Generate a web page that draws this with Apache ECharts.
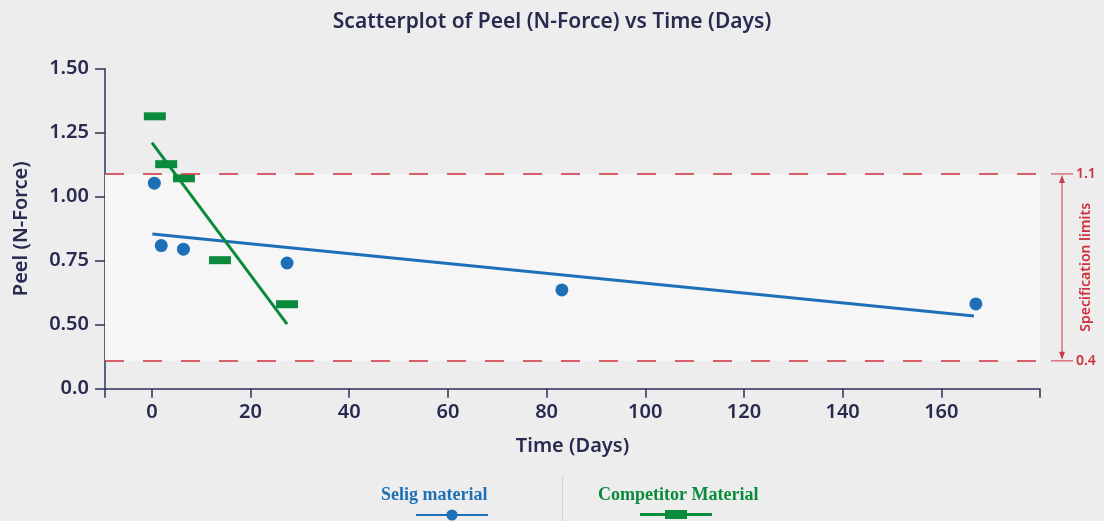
<!DOCTYPE html>
<html>
<head>
<meta charset="utf-8">
<script src="https://cdn.jsdelivr.net/npm/echarts@6/dist/echarts.min.js"></script>
<style>
  html, body { margin: 0; padding: 0; background: #ededed; }
  #chart { width: 1104px; height: 521px; }
</style>
</head>
<body>
<div id="chart"></div>
<script>
// values
const seligPoints = [[0.5, 1.053], [1.9, 0.809], [6.4, 0.795], [27.4, 0.741], [83.1, 0.636], [167.0, 0.581]];
const seligTrend = [[0.1, 0.854], [166.6, 0.534]];
const competitorPoints = [[0.6, 1.314], [2.9, 1.127], [6.5, 1.072], [13.8, 0.752], [27.4, 0.580]];
const competitorTrend = [[0.0, 1.211], [27.4, 0.502]];
const specLines = [1.089, 0.359];
const specLabels = ['1.1', '0.4'];
const yTickLabels = ['0.0', '0.50', '0.75', '1.00', '1.25', '1.50'];

const BLUE = '#1f6fb8';
const GREEN = '#0a8a3c';
const RED = '#cf2f3c';
const INK = '#272b4f';
const SANS = '"Noto Sans", "Open Sans", sans-serif';
const SERIF = '"Liberation Serif", "DejaVu Serif", serif';

const chart = echarts.init(document.getElementById('chart'));

const option = {
  backgroundColor: '#ededed',
  animation: false,
  title: {
    text: 'Scatterplot of Peel (N-Force) vs Time (Days)',
    left: 'center',
    top: 7,
    textStyle: { fontFamily: SANS, fontSize: 21, fontWeight: 600, color: INK }
  },
  grid: {
    left: 105, right: 64, top: 68.7, bottom: 132.3,
    containLabel: false, outerBoundsMode: 'none'
  },
  legend: [
    { // text only
      data: ['Selig material'], left: 371, top: 481, icon: 'none', itemWidth: 0, itemHeight: 18,
      textStyle: { fontFamily: SERIF, fontWeight: 'bold', fontSize: 18, color: BLUE }
    },
    { // icon only
      data: ['Selig material'], left: 410, top: 503, itemWidth: 72, itemHeight: 14,
      formatter: () => ''
    },
    {
      data: ['Competitor Material'], left: 588, top: 481, icon: 'none', itemWidth: 0, itemHeight: 18,
      textStyle: { fontFamily: SERIF, fontWeight: 'bold', fontSize: 18, color: GREEN }
    },
    {
      data: ['Competitor Material'], left: 635, top: 505, itemWidth: 72, itemHeight: 9,
      icon: 'path://M0,3h72v3H0zM25,0h22v9H25z',
      formatter: () => ''
    }
  ],
  xAxis: {
    type: 'value',
    min: -9.5, max: 180,
    minInterval: 20, maxInterval: 20, splitNumber: 9,
    name: 'Time (Days)',
    nameLocation: 'middle',
    nameGap: 48,
    nameTextStyle: { fontFamily: SANS, fontSize: 20, fontWeight: 600, color: INK },
    axisLine: { onZero: false, lineStyle: { color: '#2e3255', width: 1.5 } },
    axisTick: { length: 9, lineStyle: { color: '#2e3255', width: 1.5 } },
    axisLabel: {
      margin: 14, fontFamily: SANS, fontSize: 20, fontWeight: 600, color: INK,
      formatter: v => (v < 0 || v > 170) ? '' : String(v)
    },
    splitLine: { show: false }
  },
  yAxis: {
    type: 'value',
    min: 0.25, max: 1.5, interval: 0.25,
    name: 'Peel (N-Force)',
    nameLocation: 'middle',
    nameGap: 74,
    nameTextStyle: { fontFamily: SANS, fontSize: 20, fontWeight: 600, color: INK },
    axisLine: { show: true, onZero: false, lineStyle: { color: '#2e3255', width: 1.5 } },
    axisTick: { show: true, length: 10, lineStyle: { color: '#2e3255', width: 1.5 } },
    axisLabel: {
      margin: 16, fontFamily: SANS, fontSize: 20, fontWeight: 600, color: INK,
      formatter: (v, i) => yTickLabels[i]
    },
    splitLine: { show: false }
  },
  series: [
    {
      name: 'Selig material',
      type: 'line',
      data: seligTrend,
      symbol: 'circle',
      symbolSize: 13,
      showSymbol: false,
      lineStyle: { color: BLUE, width: 3 },
      itemStyle: { color: BLUE },
      z: 3,
      markArea: {
        silent: true,
        itemStyle: { color: '#f6f6f6' },
        data: [[{ yAxis: specLines[1] }, { yAxis: specLines[0] }]]
      },
      markLine: {
        silent: true,
        symbol: 'none',
        label: { show: false },
        lineStyle: { color: RED, type: [19, 19], width: 1.5 },
        data: specLines.map(v => ({ yAxis: v }))
      }
    },
    {
      name: 'Selig material',
      type: 'scatter',
      data: seligPoints,
      symbol: 'circle',
      symbolSize: 13,
      itemStyle: { color: BLUE, opacity: 1 },
      z: 4
    },
    {
      name: 'Competitor Material',
      type: 'line',
      data: competitorTrend,
      symbol: 'rect',
      showSymbol: false,
      lineStyle: { color: GREEN, width: 3 },
      itemStyle: { color: GREEN },
      z: 5
    },
    {
      name: 'Competitor Material',
      type: 'scatter',
      data: competitorPoints,
      symbol: 'rect',
      symbolSize: [22, 8],
      itemStyle: { color: GREEN, opacity: 1 },
      z: 4
    }
  ]
};

chart.setOption(option);

// annotation on the right side of the plot: spec limit labels and arrow
const yTop = chart.convertToPixel({ yAxisIndex: 0 }, specLines[0]);
const yBot = chart.convertToPixel({ yAxisIndex: 0 }, specLines[1]);
const xEnd = chart.convertToPixel({ xAxisIndex: 0 }, 180);
const ax = xEnd + 22;
const soft = '#d8737b';

chart.setOption({
  graphic: [
    { type: 'line', shape: { x1: xEnd + 11, y1: yTop, x2: xEnd + 33, y2: yTop }, style: { stroke: soft, lineWidth: 1.5 } },
    { type: 'line', shape: { x1: xEnd + 11, y1: yBot, x2: xEnd + 33, y2: yBot }, style: { stroke: soft, lineWidth: 1.5 } },
    { type: 'line', shape: { x1: ax, y1: yTop + 3, x2: ax, y2: yBot - 3 }, style: { stroke: soft, lineWidth: 1.5 } },
    { type: 'polygon', shape: { points: [[ax, yTop + 1], [ax - 3, yTop + 9], [ax + 3, yTop + 9]] }, style: { fill: '#c8404b' } },
    { type: 'polygon', shape: { points: [[ax, yBot - 1], [ax - 3, yBot - 9], [ax + 3, yBot - 9]] }, style: { fill: '#c8404b' } },
    { type: 'text', x: xEnd + 36, y: yTop, style: { text: specLabels[0], fill: RED, font: '600 14px ' + SANS, verticalAlign: 'middle', align: 'left' } },
    { type: 'text', x: xEnd + 36, y: yBot, style: { text: specLabels[1], fill: RED, font: '600 14px ' + SANS, verticalAlign: 'middle', align: 'left' } },
    {
      type: 'text', x: xEnd + 46, y: (yTop + yBot) / 2, rotation: Math.PI / 2,
      style: { text: 'Specification limits', fill: RED, font: '600 14px ' + SANS, align: 'center', verticalAlign: 'middle' }
    },
    { type: 'line', shape: { x1: 562.5, y1: 476, x2: 562.5, y2: 521 }, style: { stroke: '#d2d2d2', lineWidth: 1 } }
  ]
});
</script>
</body>
</html>
